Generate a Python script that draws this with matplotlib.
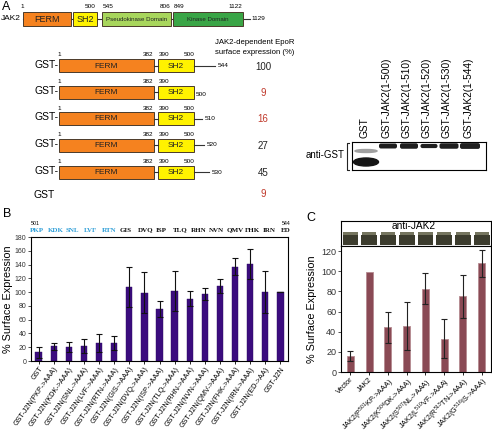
import matplotlib
matplotlib.use("Agg")
import matplotlib.pyplot as plt
from matplotlib.patches import Rectangle, Ellipse, FancyBboxPatch

plt.rcParams["font.family"] = ["Liberation Sans", "DejaVu Sans"]
plt.rcParams["mathtext.fontset"] = "custom"
plt.rcParams["mathtext.rm"] = "Liberation Sans"

# ---------------- DATA ----------------
# Panel A: JAK2 domain schematic (residue labels) and truncation constructs
jak2_domains = ["FERM", "SH2", "Pseudokinase Domain", "Kinase Domain"]
jak2_domain_res = [("1", ""), ("", "500"), ("545", "806"), ("849", "1122")]
jak2_len_label = "1129"
construct_ends = ["544", "500", "510", "520", "530"]
construct_expr = [100, 9, 16, 27, 45]
gst_expr = 9
expr_red = [False, True, True, False, False]
blot_lanes = ["GST", "GST-JAK2(1-500)", "GST-JAK2(1-510)", "GST-JAK2(1-520)",
              "GST-JAK2(1-530)", "GST-JAK2(1-544)"]

# Panel B
seq_cyan = ["PKP", "KDK", "SNL", "LVF", "RTN"]
seq_black = ["GIS", "DVQ", "ISP", "TLQ", "RHN", "NVN", "QMV", "FHK", "IRN", "ED"]
b_labels = ["GST", "GST-J2N(PKP->AAA)", "GST-J2N(KDK->AAA)", "GST-J2N(SNL->AAA)",
            "GST-J2N(LVF->AAA)", "GST-J2N(RTN->AAA)", "GST-J2N(GIS->AAA)",
            "GST-J2N(DVQ->AAA)", "GST-J2N(ISP->AAA)", "GST-J2N(TLQ->AAA)",
            "GST-J2N(RHN->AAA)", "GST-J2N(NVN->AAA)", "GST-J2N(QMV->AAA)",
            "GST-J2N(FHK->AAA)", "GST-J2N(IRN->AAA)", "GST-J2N(ED->AA)", "GST-J2N"]
b_values = [12.5, 21.5, 20.5, 22, 25.5, 26.5, 107, 99, 75, 101.5, 90.5, 97.5, 108.5,
            137, 141, 100, 100]
b_errors = [8, 5, 7, 10.5, 13, 10, 29, 30, 11.5, 29.5, 10.5, 8.5, 10.5, 12, 21.5, 30, 0]
b_yticks = [0, 20, 40, 60, 80, 100, 120, 140, 160, 180]

# Panel C
c_labels = ["Vector", "JAK2", "JAK2(P$^{501}$KP->AAA)", "JAK2(K$^{504}$DK->AAA)",
            "JAK2(S$^{507}$NL->AAA)", "JAK2(L$^{510}$VF->AAA)", "JAK2(R$^{513}$TN->AAA)",
            "JAK2(G$^{516}$IS->AAA)"]
c_values = [15.5, 99.5, 44.5, 45.5, 82.5, 33, 75, 108]
c_errors = [5, 0, 15.5, 24, 15.5, 19.5, 21.5, 13.5]
c_yticks = [0, 20, 40, 60, 80, 100, 120]

# ---------------- FIGURE ----------------
W, H = 492, 433
fig = plt.figure(figsize=(W / 100, H / 100), dpi=100)
ov = fig.add_axes([0, 0, 1, 1])
ov.set_xlim(0, W)
ov.set_ylim(H, 0)
ov.axis("off")

def fr(x0, y0, x1, y1):
    return [x0 / W, 1 - y1 / H, (x1 - x0) / W, (y1 - y0) / H]

# panel letters
ov.text(2, 7, "A", fontsize=9, va="center", ha="left")
ov.text(3, 214, "B", fontsize=9, va="center", ha="left")
ov.text(306, 218, "C", fontsize=9, va="center", ha="left")

# ---- JAK2 schematic ----
dom_x = [(23, 71), (73, 97), (102, 171), (173, 243)]
dom_col = ["#f5821f", "#fff200", "#a8d65c", "#3aa546"]
dom_fs = [6.5, 6.5, 4.4, 4.4]
yc = 19
ov.plot([23, 250], [yc, yc], color="#333333", lw=0.8, zorder=1)
ov.text(21, yc, "JAK2", fontsize=6.0, ha="right", va="center")
for (x0, x1), c, name, fs, (r0, r1) in zip(dom_x, dom_col, jak2_domains, dom_fs, jak2_domain_res):
    ov.add_patch(Rectangle((x0, yc - 7), x1 - x0, 14, facecolor=c, edgecolor="#4a3a2a", lw=0.7, zorder=2))
    ov.text((x0 + x1) / 2, yc + 0.5, name, fontsize=fs, ha="center", va="center", zorder=3,
            color="#222222")
    if r0 == "1":
        ov.text(x0 - 1, 6, r0, fontsize=4.6, ha="center", va="center")
    elif r0:
        ov.text(x0 + 1, 6, r0, fontsize=4.6, ha="left", va="center")
    if r1:
        ov.text(x1 - 1, 6, r1, fontsize=4.6, ha="right", va="center")
ov.text(251, yc, jak2_len_label, fontsize=4.6, ha="left", va="center")

# ---- constructs ----
ov.text(215, 43, "JAK2-dependent EpoR", fontsize=5.6, ha="left", va="center")
ov.text(215, 53, "surface expression (%)", fontsize=5.6, ha="left", va="center")
row_y = [65.5, 92, 118.5, 145, 172]
tail_end = [215, 194, 202, 204, 209]
for i, (y, end, lab, val, red) in enumerate(zip(row_y, tail_end, construct_ends, construct_expr, expr_red)):
    ov.text(59, y - 1, "GST-", fontsize=7.5, ha="right", va="center")
    ov.plot([154, 158], [y, y], color="#333333", lw=0.8)
    ov.add_patch(Rectangle((59, y - 6.5), 95, 13, facecolor="#f5821f", edgecolor="#4a3a2a", lw=0.7))
    ov.add_patch(Rectangle((158, y - 6.5), 36, 13, facecolor="#fff200", edgecolor="#4a3a2a", lw=0.7))
    ov.text(106, y + 0.5, "FERM", fontsize=6, ha="center", va="center", color="#222222")
    ov.text(176, y + 0.5, "SH2", fontsize=6, ha="center", va="center", color="#222222")
    ov.text(59, y - 10.5, "1", fontsize=4.6, ha="center", va="center")
    ov.text(148, y - 10.5, "382", fontsize=4.6, ha="center", va="center")
    ov.text(164, y - 10.5, "390", fontsize=4.6, ha="center", va="center")
    if end > 194:
        ov.text(189, y - 10.5, "500", fontsize=4.6, ha="center", va="center")
        ov.plot([194, end], [y, y], color="#333333", lw=0.8)
        ov.text(end + 3, y, lab, fontsize=4.6, ha="left", va="center")
    else:
        ov.text(196, y + 2.5, lab, fontsize=4.6, ha="left", va="center")
    ov.text(263, y + 1, str(val), fontsize=7, ha="center", va="center",
            color="#c0392b" if red else "#222222")
ov.text(33, 195, "GST", fontsize=7.5, ha="left", va="center")
ov.text(263, 194, str(gst_expr), fontsize=7, ha="center", va="center", color="#c0392b")

# ---- GST western blot ----
bx = fig.add_axes(fr(352, 142, 486, 170))
bx.set_xlim(352, 486)
bx.set_ylim(170, 142)
bx.set_xticks([])
bx.set_yticks([])
for s in bx.spines.values():
    s.set_linewidth(0.8)
lane_x = [366, 388, 409, 429, 449, 470]
bx.add_patch(Ellipse((366, 162), 25, 8, color="#151515"))
bx.add_patch(Ellipse((366, 151), 22, 3, color="#a0a0a0"))
band_w = [18, 18, 17, 19, 20]
band_h = [5, 5.5, 4.2, 5.5, 5.8]
for x, w, h in zip(lane_x[1:], band_w, band_h):
    bx.add_patch(FancyBboxPatch((x - w / 2, 146 - h / 2), w, h,
                                boxstyle="round,pad=0,rounding_size=2", color="#1e1e1e", lw=0))
for x, lab in zip([364, 387, 407, 427, 447, 469], blot_lanes):
    ov.text(x, 138, lab, fontsize=7.3, rotation=90, ha="center", va="bottom")
ov.text(345, 155, "anti-GST", fontsize=7, ha="right", va="center")
ov.plot([349, 347, 347, 349], [143, 143, 170, 170], color="#222222", lw=0.8)

# ---- Panel B sequence ----
ov.text(31, 223.5, "501", fontsize=3.8, ha="left", va="center")
ov.text(282, 223.5, "544", fontsize=3.8, ha="left", va="center")
step = 17.9
for i, t in enumerate(seq_cyan + seq_black):
    cyan = i < len(seq_cyan)
    ov.text(30 + i * step, 230, t, fontsize=5.0, ha="left", va="center",
            color="#2f9fd8" if cyan else "#111111",
            family="Liberation Serif", fontweight="bold")

# ---- Panel B chart ----
axb = fig.add_axes(fr(31, 237, 288, 361))
xb = range(len(b_values))
axb.bar(xb, b_values, width=0.42, color="#3b0c7e", edgecolor="#2a0860", lw=0.3, zorder=2)
axb.errorbar(xb, b_values, yerr=b_errors, fmt="none", ecolor="#111111", elinewidth=0.8,
             capsize=2, capthick=0.8, zorder=3)
axb.set_xlim(-0.5, len(b_values) - 0.5)
axb.set_ylim(0, 180)
axb.set_yticks(b_yticks)
axb.tick_params(axis="y", labelsize=5.0, length=2, width=0.6, pad=1.2, colors="#333333")
axb.set_xticks(list(xb))
axb.set_xticklabels(b_labels, rotation=55, ha="right", rotation_mode="anchor", fontsize=5.2)
axb.tick_params(axis="x", length=2, width=0.6, pad=1.2)
axb.set_ylabel("% Surface Expression", fontsize=7.8, labelpad=1.5)
for s in axb.spines.values():
    s.set_linewidth(0.8)

# ---- Panel C blot ----
cbx = fig.add_axes(fr(341, 221, 491, 246))
cbx.set_xlim(-0.5, len(c_values) - 0.5)
cbx.set_ylim(0, 1)
cbx.set_xticks([])
cbx.set_yticks([])
for s in cbx.spines.values():
    s.set_linewidth(0.8)
for i in range(len(c_values)):
    cbx.add_patch(Rectangle((i - 0.42, 0.06), 0.84, 0.38, color="#3c3c2e", lw=0))
    cbx.add_patch(Rectangle((i - 0.38, 0.44), 0.76, 0.12, color="#75755f", lw=0))
cbx.text(3.4, 0.8, "anti-JAK2", fontsize=7.3, ha="center", va="center")

# ---- Panel C chart ----
axc = fig.add_axes(fr(341, 246, 491, 372))
xc = range(len(c_values))
axc.bar(xc, c_values, width=0.38, color="#8a4a55", edgecolor="#b58a90", lw=0.6, zorder=2)
axc.errorbar(xc, c_values, yerr=[e if e > 0 else float("nan") for e in c_errors], fmt="none",
             ecolor="#222222", elinewidth=0.8, capsize=2, capthick=0.8, zorder=3)
axc.set_xlim(-0.5, len(c_values) - 0.5)
axc.set_ylim(0, 125)
axc.set_yticks(c_yticks)
axc.tick_params(axis="y", labelsize=6.5, length=2, width=0.6, pad=1.5, colors="#333333")
axc.set_xticks(list(xc))
axc.set_xticklabels(c_labels, rotation=45, ha="right", rotation_mode="anchor", fontsize=5.2)
axc.tick_params(axis="x", length=2, width=0.6, pad=1.0)
axc.set_ylabel("% Surface Expression", fontsize=7.8, labelpad=3)
for s in axc.spines.values():
    s.set_linewidth(0.8)

fig.savefig("out.png", dpi=100)
